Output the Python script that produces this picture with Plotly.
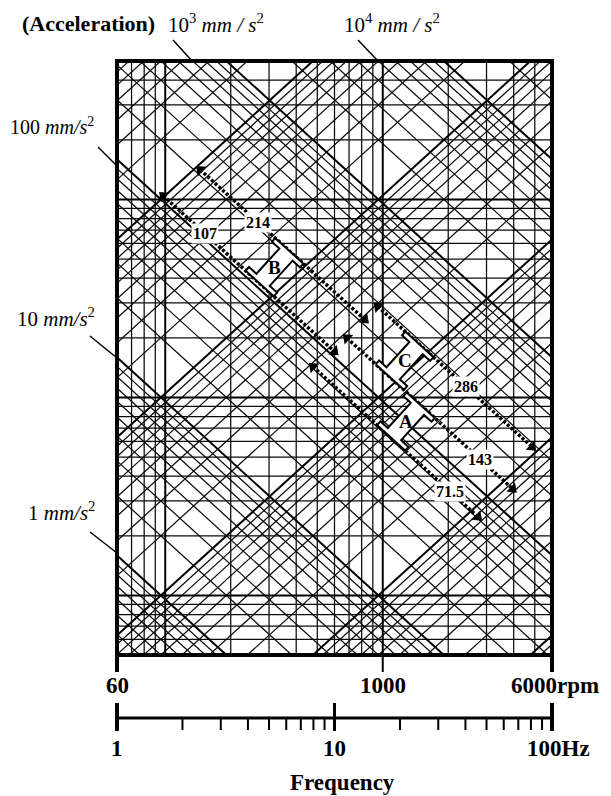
import numpy as np
import plotly.graph_objects as go

# ---------------- data ----------------
OFF = 8                                  # page body margin of the html page
W, H = 611 - OFF, 796 - OFF
L, R, T, B = 117, 552, 61, 655          # plot area (page px)

F_MIN, F_MAX = 1.0, 100.0               # Hz  (60 .. 6000 rpm)
V_MIN, V_MAX = 0.05, 50.0               # velocity scale (mm/s)

rpm_grid = [70, 80, 90, 100, 200, 300, 400, 500, 600, 700, 800, 900, 1000, 2000, 3000, 4000, 5000]
rpm_major = [100, 1000]
mantissas = [1, 2, 3, 4, 5, 6, 7, 8, 9]
vel_decades = [0.01, 0.1, 1, 10]
acc_decades = [0.1, 1, 10, 100, 1000, 10000]
disp_decades = [1e-5, 1e-4, 1e-3, 1e-2, 1e-1, 1]

rpm_ticks = [60, 1000, 6000]
rpm_labels = ["60", "1000", "6000rpm"]
hz_major = [1, 10, 100]
hz_labels = ["1", "10", "100Hz"]
hz_minor = [2, 3, 4, 5, 6, 7, 8, 9, 20, 30, 40, 50, 60, 70, 80, 90]

# dotted acceleration levels
level_values = [107, 214, 71.5, 143, 286]
level_start_hz = [1.63, 2.41, 7.96, 11.4, 15.8]
level_end_hz = [10.0, 13.8, 45.7, 66.0, 81.0]
level_label_hz = [2.54, 4.45, 34.0, 46.6, 40.2]
level_text = ["107", "214", "71.5", "143", "286"]

# I-beam markers between pairs of levels
bracket_names = ["B", "A", "C"]
bracket_low = [107, 71.5, 143]
bracket_high = [214, 143, 286]
bracket_hz = [5.3, 21.3, 21.0]

# ---------------- helpers ----------------
TWO_PI = 2 * np.pi
THETA = np.degrees(np.arctan((B - T) / 3 / ((R - L) / 2)))   # slope of accel lines in px


def px_x(f):
    return L + (R - L) * np.log10(f / F_MIN) / np.log10(F_MAX / F_MIN)


def px_y(v):
    return T + (B - T) * np.log10(V_MAX / v) / np.log10(V_MAX / V_MIN)


def to_data(px, py):
    f = F_MIN * 10 ** ((px - L) / (R - L) * np.log10(F_MAX / F_MIN))
    v = V_MAX / 10 ** ((py - T) / (B - T) * np.log10(V_MAX / V_MIN))
    return f, v


def P(px, py):
    return (px - OFF) / W, 1 - (py - OFF) / H


fig = go.Figure()

thin_x, thin_y, thick_x, thick_y = [], [], [], []


def add(xs, ys, thick):
    if thick:
        thick_x.extend(list(xs) + [None]); thick_y.extend(list(ys) + [None])
    else:
        thin_x.extend(list(xs) + [None]); thin_y.extend(list(ys) + [None])


for rpm in rpm_grid:
    f = rpm / 60.0
    add([f, f], [V_MIN, V_MAX], rpm in rpm_major)

for d in vel_decades:
    for m in mantissas:
        v = m * d
        if V_MIN < v < V_MAX:
            add([F_MIN, F_MAX], [v, v], m == 1)

fx = np.array([0.3, 300.0])
for d in acc_decades:
    for m in mantissas:
        a = m * d
        add(fx, a / (TWO_PI * fx), m == 1)
for d in disp_decades:
    for m in mantissas:
        dd = m * d
        add(fx, TWO_PI * fx * dd, m == 1)

fig.add_trace(go.Scatter(x=thin_x, y=thin_y, mode="lines",
                         line=dict(color="#0a0a0a", width=1.25), hoverinfo="skip"))
fig.add_trace(go.Scatter(x=thick_x, y=thick_y, mode="lines",
                         line=dict(color="#000", width=2.0), hoverinfo="skip"))

# dotted acceleration levels
for a, f0, f1 in zip(level_values, level_start_hz, level_end_hz):
    fs = np.array([f0, f1])
    fig.add_trace(go.Scatter(x=fs, y=a / (TWO_PI * fs), mode="lines",
                             line=dict(color="#000", width=3.5, dash="3px,2px"), hoverinfo="skip"))
    fig.add_trace(go.Scatter(x=[f0], y=[a / (TWO_PI * f0)], mode="markers",
                             marker=dict(symbol="triangle-left", size=11, color="#000", angle=THETA),
                             hoverinfo="skip"))
    fig.add_trace(go.Scatter(x=[f1], y=[a / (TWO_PI * f1)], mode="markers",
                             marker=dict(symbol="triangle-right", size=11, color="#000", angle=THETA),
                             hoverinfo="skip"))

# I-beam markers
th = np.radians(THETA)
u = np.array([np.cos(th), np.sin(th)])
w = np.array([np.sin(th), -np.cos(th)])
for name, lo, hi, fc in zip(bracket_names, bracket_low, bracket_high, bracket_hz):
    vc = np.sqrt(lo * hi) / (TWO_PI * fc)
    cx, cy = px_x(fc), px_y(vc)
    h = (px_y(lo / (TWO_PI * fc)) - px_y(hi / (TWO_PI * fc))) * np.cos(th) / 2
    Lf, t, wb = 19, 5, 9
    loc = [(-Lf, -h), (Lf, -h), (Lf, -h + t), (wb, -h + t), (wb, h - t), (Lf, h - t), (Lf, h),
           (-Lf, h), (-Lf, h - t), (-wb, h - t), (-wb, -h + t), (-Lf, -h + t), (-Lf, -h)]
    xs, ys = [], []
    for uu, ww in loc:
        p = np.array([cx, cy]) + uu * u + ww * w
        f, v = to_data(p[0], p[1])
        xs.append(f); ys.append(v)
    fig.add_trace(go.Scatter(x=xs, y=ys, mode="lines", fill="toself", fillcolor="white",
                             line=dict(color="#000", width=2), hoverinfo="skip"))
    fig.add_annotation(x=np.log10(fc), y=np.log10(vc), xref="x", yref="y", text="<b>%s</b>" % name,
                       showarrow=False, xanchor="center", yanchor="middle",
                       font=dict(family="Liberation Serif", size=19, color="#000"))

for a, fl, txt in zip(level_values, level_label_hz, level_text):
    fig.add_annotation(x=np.log10(fl), y=np.log10(a / (TWO_PI * fl)), xref="x", yref="y",
                       text="<b>%s</b>" % txt, showarrow=False, bgcolor="white", borderpad=1,
                       xanchor="center", yanchor="middle",
                       font=dict(family="Liberation Serif", size=16, color="#000"))

shapes = []
# frame
x0, y0 = P(L, B); x1, y1 = P(R, T)
shapes.append(dict(type="rect", xref="paper", yref="paper", x0=x0, y0=y0, x1=x1, y1=y1,
                   line=dict(color="#000", width=4)))


def seg(pa, pb, width):
    (xa, ya), (xb, yb) = P(*pa), P(*pb)
    shapes.append(dict(type="line", xref="paper", yref="paper", x0=xa, y0=ya, x1=xb, y1=yb,
                       line=dict(color="#000", width=width)))


def text(txt, cx, cy, size, bold=False):
    xa, ya = P(cx, cy)
    fig.add_annotation(x=xa, y=ya, xref="paper", yref="paper",
                       text=("<b>%s</b>" % txt) if bold else txt, showarrow=False,
                       xanchor="center", yanchor="middle",
                       font=dict(family="Liberation Serif", size=size, color="#000"))


# rpm ticks and labels
for rpm, lab in zip(rpm_ticks, rpm_labels):
    xp = px_x(rpm / 60.0)
    seg((xp, B), (xp, 672), 4 if rpm != 1000 else 2)
    text(lab, xp + (3 if lab.endswith("rpm") else 0), 685, 23, bold=True)

# Hz axis
seg((L, 718), (R, 718), 3)
for f, lab in zip(hz_major, hz_labels):
    xp = px_x(f)
    seg((xp, 703), (xp, 731), 4 if f != 10 else 3)
    text(lab, xp + (6 if lab.endswith("Hz") else 0), 748, 23, bold=True)
for f in hz_minor:
    xp = px_x(f)
    seg((xp, 718), (xp, 730), 2)

text("Frequency", 342, 782, 23, bold=True)

# acceleration labels with leader lines
acc_labels = [
    ("(Acceleration)", 88, 23, None, True, 22),
    ("10<sup>3</sup> <i>mm / s</i><sup>2</sup>", 216, 24, ((173, 40), (192, 61)), False, 21),
    ("10<sup>4</sup> <i>mm / s</i><sup>2</sup>", 392, 24, ((358, 40), (378, 61)), False, 21),
    ("100 <i>mm/s</i><sup>2</sup>", 52, 126, ((98, 147), (117, 166)), False, 20),
    ("10 <i>mm/s</i><sup>2</sup>", 56, 317, ((90, 336), (117, 358)), False, 21),
    ("1 <i>mm/s</i><sup>2</sup>", 61, 511, ((90, 532), (117, 553)), False, 21),
]
for txt, cxp, cyp, lead, bold, size in acc_labels:
    text(txt, cxp, cyp, size, bold=bold)
    if lead:
        seg(lead[0], lead[1], 1.5)

fig.update_layout(
    width=W, height=H, margin=dict(l=0, r=0, t=0, b=0),
    paper_bgcolor="white", plot_bgcolor="white", showlegend=False,
    xaxis=dict(type="log", range=[np.log10(F_MIN), np.log10(F_MAX)],
               domain=[(L - OFF) / W, (R - OFF) / W],
               showgrid=False, zeroline=False, showticklabels=False, ticks="", showline=False),
    yaxis=dict(type="log", range=[np.log10(V_MIN), np.log10(V_MAX)],
               domain=[1 - (B - OFF) / H, 1 - (T - OFF) / H],
               showgrid=False, zeroline=False, showticklabels=False, ticks="", showline=False),
    shapes=shapes,
)

fig.write_html("out.html")
